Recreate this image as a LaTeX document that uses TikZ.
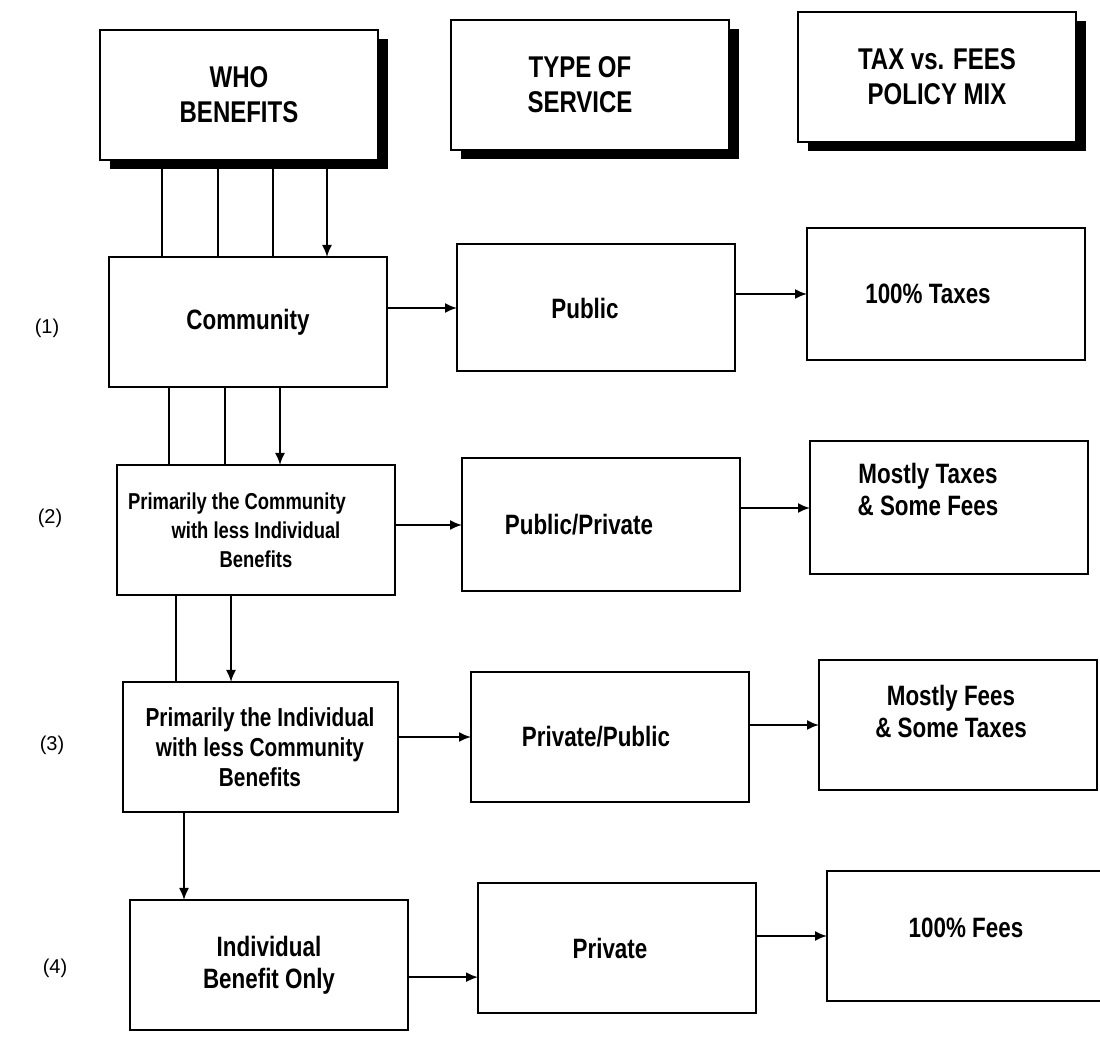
\documentclass[tikz,border=0pt]{standalone}
\usepackage{fontspec}
\setmainfont{Liberation Sans}[FakeStretch=0.8]
\newfontfamily\rowfont{Liberation Sans}
\usepackage{tikz}
\usetikzlibrary{arrows.meta,shadows,calc,positioning}

\begin{document}
\begin{tikzpicture}[x=0.5pt,y=-0.5pt,
    >={Latex[length=6pt,width=5pt]},
    flowbox/.style={draw,line width=1pt,rectangle,inner sep=0pt,outer sep=0pt,
      minimum width=139pt,minimum height=65pt,align=center,
      font=\bfseries\fontsize{14}{16}\selectfont},
    headbox/.style={flowbox,fill=white,font=\bfseries\fontsize{15}{17.5}\selectfont,
      drop shadow={shadow xshift=5pt,shadow yshift=-4.5pt,fill=black,opacity=1}},
    rowlabel/.style={font=\rowfont\fontsize{10}{12}\selectfont},
    conn/.style={line width=0.9pt}]
      \useasboundingbox (0,0) rectangle (1100,1048);

      \coordinate (wb) at (239,95);
      \coordinate (ts) at (590,85);
      \coordinate (tf) at (937,77);

      \coordinate (cm) at (248,322);
      \coordinate (pb) at (596,308);
      \coordinate (tx) at (946,294);

      \coordinate (pc) at (256,530);
      \coordinate (pp) at (601,525);
      \coordinate (mt) at (949,508);

      \coordinate (pi) at (260,747);
      \coordinate (pv) at (610,737);
      \coordinate (mf) at (958,725);

      \coordinate (ib) at (269,965);
      \coordinate (pr) at (617,948);
      \coordinate (fe) at (966,936);

      % headings
      \node[headbox] (wbn) at (wb) {WHO\\BENEFITS};
      \node[headbox] (tsn) at (ts) {TYPE OF\hspace*{10pt}\\SERVICE\hspace*{10pt}};
      \node[headbox] (tfn) at (tf) {TAX vs. FEES\\POLICY MIX};

      % rows
      \node[flowbox] (cmn) at (cm) {Community};
      \node[flowbox,minimum height=63.5pt] (pbn) at (pb) {Public\hspace*{11pt}};
      \node[flowbox,minimum height=66pt] (txn) at (tx) {100\% Taxes\hspace*{18pt}};

      \node[flowbox,font=\bfseries\fontsize{11.5}{14.5}\selectfont] (pcn) at (pc)
        {Primarily the Community\hspace*{19pt}\\with less Individual\hspace*{7pt}\\Benefits};
      \node[flowbox,minimum height=66.5pt] (ppn) at (pp) {Public/Private\hspace*{22pt}};
      \node[flowbox,minimum height=66.5pt,text depth=19pt] (mtn) at (mt)
        {Mostly Taxes\hspace*{21pt}\\\& Some Fees\hspace*{21pt}};

      \node[flowbox,minimum width=137.5pt,font=\bfseries\fontsize{13}{15}\selectfont] (pin) at (pi)
        {Primarily the Individual\\with less Community\\Benefits};
      \node[flowbox] (pvn) at (pv) {Private/Public\hspace*{14pt}};
      \node[flowbox,text depth=14pt] (mfn) at (mf) {Mostly Fees\hspace*{7pt}\\\& Some Taxes\hspace*{7pt}};

      \node[flowbox] (ibn) at (ib) {Individual\\Benefit Only};
      \node[flowbox] (prn) at (pr) {Private\hspace*{7pt}};
      \node[flowbox,text depth=8pt] (fen) at (fe) {100\% Fees};

      \node[rowlabel] (r1) at (47,328) {(1)};
      \node[rowlabel] (r2) at (50,518) {(2)};
      \node[rowlabel] (r3) at (52,745) {(3)};
      \node[rowlabel] (r4) at (55,968) {(4)};

      % who benefits, going down
      \foreach \x in {162,218,273}
        \draw[conn] (wbn.south -| \x,0) -- (cmn.north -| \x,0);
      \draw[conn,->] (wbn.south -| 327,0) -- (cmn.north -| 327,0);

      \foreach \x in {169,225}
        \draw[conn] (cmn.south -| \x,0) -- (pcn.north -| \x,0);
      \draw[conn,->] (cmn.south -| 280,0) -- (pcn.north -| 280,0);

      \draw[conn] (pcn.south -| 176,0) -- (pin.north -| 176,0);
      \draw[conn,->] (pcn.south -| 231,0) -- (pin.north -| 231,0);

      \draw[conn,->] (pin.south -| 184,0) -- (ibn.north -| 184,0);

      % across
      \draw[conn,->] (cmn.east |- pbn.west) -- (pbn.west);
      \draw[conn,->] (pbn.east |- txn.west) -- (txn.west);
      \draw[conn,->] (pcn.east |- ppn.west) -- (ppn.west);
      \draw[conn,->] (ppn.east |- mtn.west) -- (mtn.west);
      \draw[conn,->] (pin.east |- pvn.west) -- (pvn.west);
      \draw[conn,->] (pvn.east |- mfn.west) -- (mfn.west);
      \draw[conn,->] (ibn.-5) -- (ibn.-5 -| prn.west);
      \draw[conn,->] (prn.east |- fen.west) -- (fen.west);
    \end{tikzpicture}
\end{document}
